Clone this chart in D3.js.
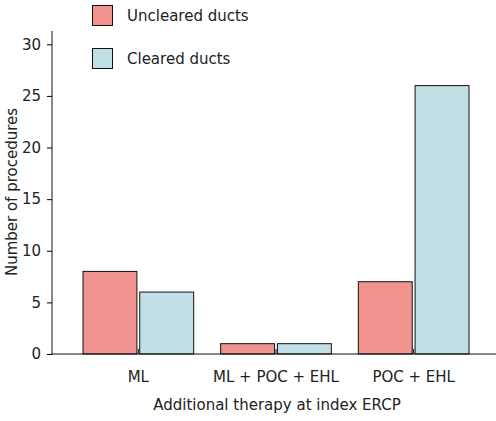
<!DOCTYPE html><html><head><script src="https://cdn.jsdelivr.net/npm/d3@7"></script>
<style>body{margin:0;background:#fff}text{font-family:"DejaVu Sans",Verdana,sans-serif;fill:#222}</style></head><body><svg id="c" width="496" height="421"></svg>
<script>
const categories=["ML","ML + POC + EHL","POC + EHL"];
const series=["Uncleared ducts","Cleared ducts"];
const uncleared=[8,1,7];
const cleared=[6,1,26];
const yTicks=[0,5,10,15,20,25,30];
const colors=["#f1948f","#c1e0e6"];
const svg=d3.select("#c");
const x0=52,x1=496,yb=354;
const y=d3.scaleLinear().domain([0,30]).range([yb,44.3]);
const x=d3.scaleBand().domain(categories).range([83,469]).paddingInner(0.196).paddingOuter(0);
const xs=d3.scaleBand().domain(series).range([0,x.bandwidth()]).paddingInner(0.05);
const data=[uncleared,cleared];
categories.forEach((c,i)=>{series.forEach((s,j)=>{
 svg.append("rect").attr("x",x(c)+xs(s)).attr("y",y(data[j][i])).attr("width",xs.bandwidth()).attr("height",yb-y(data[j][i]))
 .attr("fill",colors[j]).attr("stroke","#111").attr("stroke-width",1);
});});
const ya=svg.append("g").attr("transform",`translate(${x0},0)`).call(d3.axisLeft(y).tickValues(yTicks).tickSize(5).tickPadding(6));
ya.select(".domain").remove();
ya.selectAll("text").style("font-size","15px");
svg.append("line").attr("x1",x0).attr("x2",x0).attr("y1",31).attr("y2",yb+0.5).attr("stroke","#111");
svg.append("line").attr("x1",x0-1).attr("x2",x1).attr("y1",yb).attr("y2",yb).attr("stroke","#111");
categories.forEach(c=>{const cx=x(c)+x.bandwidth()/2;
 svg.append("line").attr("x1",cx).attr("x2",cx).attr("y1",yb-5).attr("y2",yb).attr("stroke","#111");
 svg.append("text").attr("x",cx).attr("y",382).attr("text-anchor","middle").style("font-size","15px").text(c);});
svg.append("text").attr("x",277).attr("y",410).attr("text-anchor","middle").style("font-size","15px").text("Additional therapy at index ERCP");
svg.append("text").attr("transform","translate(17,192) rotate(-90)").attr("text-anchor","middle").style("font-size","15px").text("Number of procedures");
series.forEach((s,j)=>{const ly=5+j*43;
 svg.append("rect").attr("x",92.5).attr("y",ly+0.5).attr("width",20).attr("height",20).attr("fill",colors[j]).attr("stroke","#111");
 svg.append("text").attr("x",127).attr("y",ly+16).style("font-size","15px").text(s);});
</script></body></html>
